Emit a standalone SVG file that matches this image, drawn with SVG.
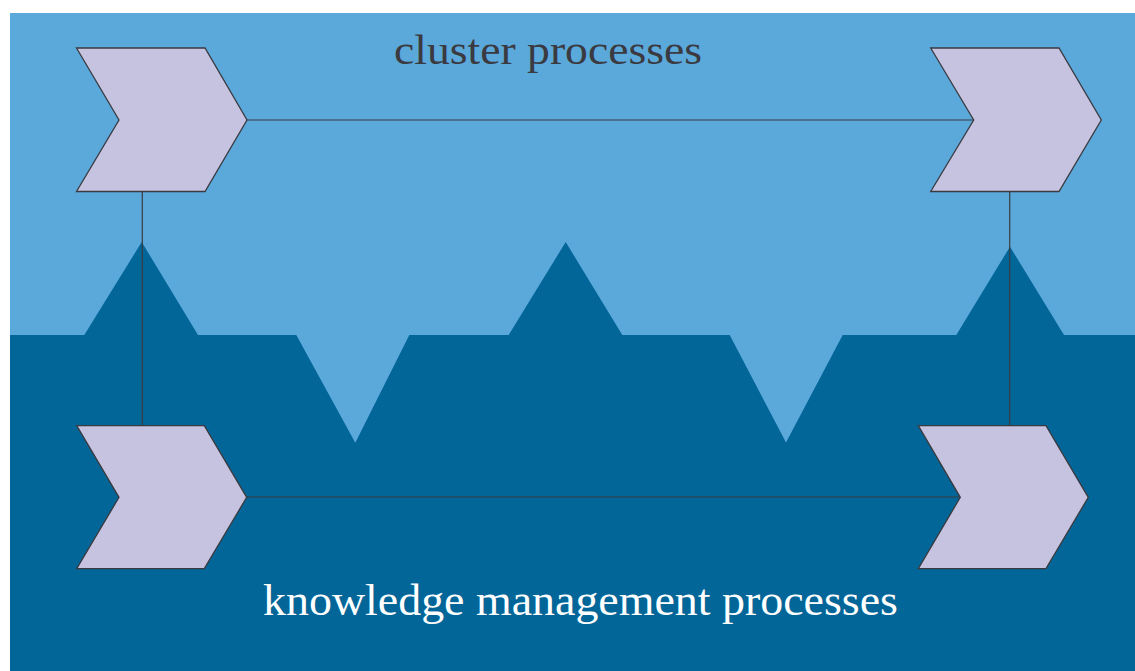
<svg xmlns="http://www.w3.org/2000/svg" width="1135" height="671" viewBox="0 0 1135 671">
<style>
.chev{fill:#c5c3e0;stroke:#3a3a40;stroke-width:1.3;stroke-linejoin:miter}
.conn{stroke:#3a3a40;stroke-width:1.2;fill:none}
.lbl{font-family:"Liberation Serif","Times New Roman",serif}
</style>
<rect x="0" y="0" width="1135" height="671" fill="#ffffff"/>
<rect x="10" y="13" width="1125" height="658" fill="#5ba8db"/>
<polygon fill="#036699" points="10,335 84.3,335 141.7,242 198,335 296.3,335 355.3,442.7 409.3,335 508.7,335 565.7,242 622.3,335 729.7,335 786,442.5 842.7,335 956.3,335 1010,246.7 1064,335 1135,335 1135,671 10,671"/>
<g id="connectors">
<line class="conn" x1="247" y1="120" x2="974" y2="120"/>
<line class="conn" x1="247" y1="497" x2="960" y2="497"/>
<line class="conn" x1="142.3" y1="191.5" x2="142.3" y2="425.7"/>
<line class="conn" x1="1009.7" y1="191.5" x2="1009.7" y2="425.7"/>
</g>
<g id="node-top-left"><polygon class="chev" points="76.5,48 205,48 247,120 205,191.5 76.5,191.5 119,120"/></g>
<g id="node-top-right"><polygon class="chev" points="930.7,48 1059,48 1101.3,120 1059,191.5 930.7,191.5 973.7,120"/></g>
<g id="node-bottom-left"><polygon class="chev" points="76.7,425.7 204.3,425.7 246.7,497.3 204.3,568.7 76.7,568.7 119,497.3"/></g>
<g id="node-bottom-right"><polygon class="chev" points="918.3,425.7 1046,425.7 1088.3,497.3 1046,568.7 918.3,568.7 960.3,497.3"/></g>
<g id="label-top"><text class="lbl" x="394" y="64" font-size="42" fill="#3a3a40" textLength="308" lengthAdjust="spacingAndGlyphs">cluster processes</text></g>
<g id="label-bottom"><text class="lbl" x="263" y="614.5" font-size="44" fill="#ffffff" textLength="635" lengthAdjust="spacingAndGlyphs">knowledge management processes</text></g>
</svg>
